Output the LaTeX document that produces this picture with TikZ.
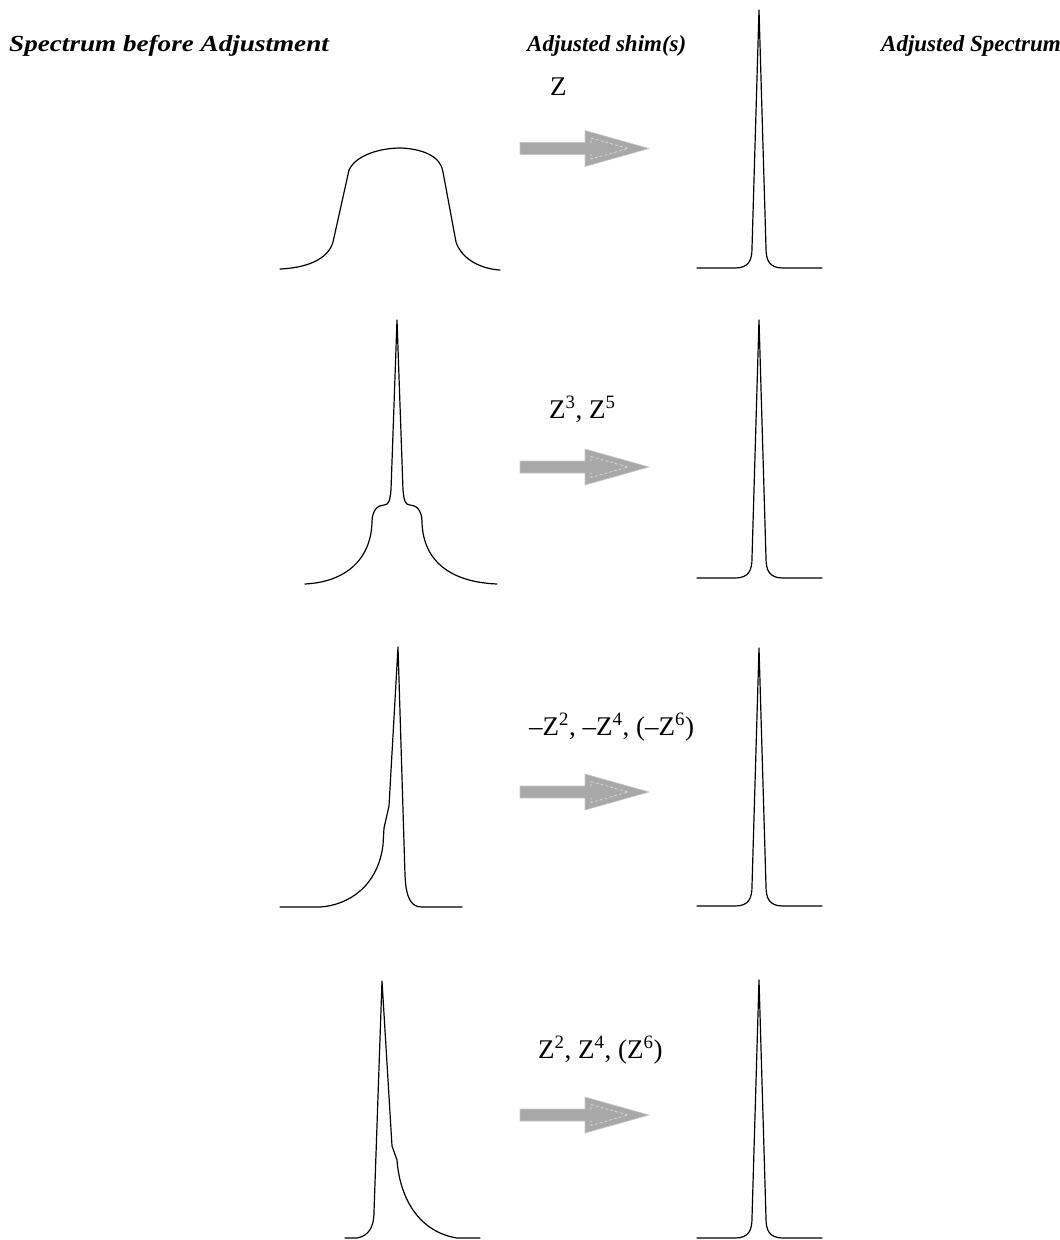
\documentclass[tikz,border=0pt]{standalone}
\usepackage{fontspec}
\setmainfont{Liberation Serif}
\definecolor{arrowgray}{RGB}{168,168,168}
\definecolor{arrowedge}{RGB}{200,200,200}
\definecolor{dashgray}{RGB}{222,222,222}
\begin{document}
\begin{tikzpicture}[x=1pt,y=-1pt,
  spec/.style={line width=1.2pt, line join=round, line cap=round},
  shimarrow/.style={fill=arrowgray, draw=arrowedge, line width=0.6pt},
  innerdash/.style={draw=dashgray, dash pattern=on 3pt off 2pt, line width=0.6pt},
  header/.style={font=\fontsize{23}{27}\selectfont\bfseries\itshape, anchor=base west, inner sep=0pt},
  shimlabel/.style={font=\fontsize{27}{32}\selectfont, anchor=base west, inner sep=0pt}]
\useasboundingbox (0,0) rectangle (1060,1240);

% headers
\node[header, xscale=1.18, transform shape] (h1) at (9,51) {Spectrum before Adjustment};
\node[header] (h2) at (527,51) {Adjusted shim(s)};
\node[header] (h3) at (881,51) {Adjusted Spectrum};

% shim labels
\node[shimlabel] (l1) at (550,95) {Z};
\node[shimlabel] (l2) at (549,418) {Z\textsuperscript{3}, Z\textsuperscript{5}};
\node[shimlabel] (l3) at (529,735) {–Z\textsuperscript{2}, –Z\textsuperscript{4}, (–Z\textsuperscript{6})};
\node[shimlabel] (l4) at (538,1058) {Z\textsuperscript{2}, Z\textsuperscript{4}, (Z\textsuperscript{6})};

% block arrows
\foreach \c in {148.5,467,792,1115} {
  \draw[shimarrow] (520,\c-6) -- (585,\c-6) -- (585,\c-18) -- (649,\c) -- (585,\c+18) -- (585,\c+6) -- (520,\c+6) -- cycle;
  \draw[innerdash] (591,\c-5.5) -- (591,\c-10.5) -- (628,\c) -- (591,\c+10.5) -- (591,\c+5.5);
}

% adjusted spectra (right column)
\foreach \b in {268,578,906,1238} {
  \draw[spec] (697,\b) -- (735,\b) .. controls (749,\b) and (752,\b-8) .. (752,\b-20)
    -- (759,\b-258) -- (766,\b-20) .. controls (766,\b-8) and (769,\b) .. (783,\b) -- (822,\b);
}

% spectra before adjustment (left column)
% row 1: broad
\draw[spec] (280,269) .. controls (305,268) and (328,260) .. (333,242)
  -- (349,170) .. controls (356,155) and (380,148) .. (401,148)
  .. controls (424,149) and (441,157) .. (443,172)
  -- (456,242) .. controls (462,260) and (482,269) .. (500,270);

% row 2: sharp peak with shoulders
\draw[spec] (305,584) .. controls (345,582) and (371,560) .. (372,522)
  .. controls (372,510) and (378,505) .. (384,505)
  .. controls (389,505) and (390,500) .. (391,490)
  -- (397,320) -- (403,490)
  .. controls (404,500) and (405,505) .. (410,505)
  .. controls (416,505) and (422,510) .. (422,522)
  .. controls (423,560) and (449,582) .. (497,584);

% row 3: tail to the left
\draw[spec] (280,907) -- (320,907) .. controls (350,905) and (378,885) .. (383,845)
  -- (384,828) -- (389,806) -- (398,647) -- (405,875)
  .. controls (406,900) and (412,907) .. (422,907) -- (462,907);

% row 4: tail to the right
\draw[spec] (345,1238) -- (357,1238) .. controls (368,1236) and (374,1228) .. (374,1212)
  -- (382,981) -- (392,1146) -- (397,1160)
  .. controls (400,1200) and (420,1232) .. (457,1238) -- (480,1238);

\end{tikzpicture}
\end{document}
